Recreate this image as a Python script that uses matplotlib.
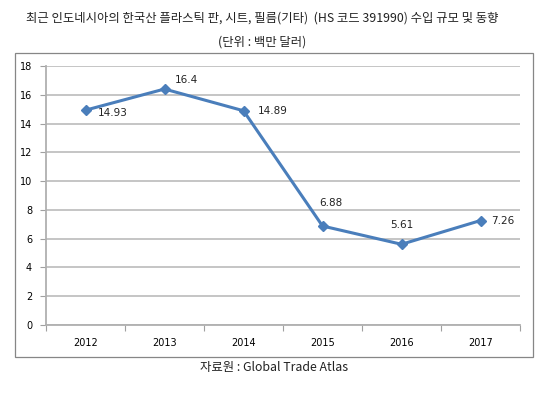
import matplotlib
matplotlib.use("Agg")
import matplotlib.pyplot as plt
from matplotlib.patches import Rectangle

plt.rcParams['font.family'] = ['Noto Sans CJK KR', 'DejaVu Sans']

years = ['2012', '2013', '2014', '2015', '2016', '2017']
values = [14.93, 16.4, 14.89, 6.88, 5.61, 7.26]
labels = ['14.93', '16.4', '14.89', '6.88', '5.61', '7.26']
yticks = [0, 2, 4, 6, 8, 10, 12, 14, 16, 18]

title1 = '최근 인도네시아의 한국산 플라스틱 판, 시트, 필름(기타)  (HS 코드 391990) 수입 규모 및 동향'
title2 = '(단위 : 백만 달러)'
source = '자료원 : Global Trade Atlas'

# label offsets in pixels (dx, dy, ha)
offsets = [(12, -3, 'left'), (10, 9, 'left'), (14, 0, 'left'),
           (8, 23, 'center'), (0, 19, 'center'), (11, 0, 'left')]

fig = plt.figure(figsize=(5.5, 3.94), dpi=100)
W, H = 550, 394

# outer frame
fig.patches.append(Rectangle((15 / W, 1 - 357 / H), (533 - 15) / W, (357 - 53) / H,
                             transform=fig.transFigure, fill=False,
                             edgecolor='#868686', linewidth=0.9))

ax = fig.add_axes([46 / W, 1 - 325 / H, (520 - 46) / W, (325 - 66) / H])
x = list(range(len(years)))
ax.plot(x, values, color='#4a7ebb', linewidth=2.2, marker='D', markersize=5,
        markerfacecolor='#4a7ebb', markeredgecolor='#4a7ebb', zorder=3)

for xi, v, lab, (dx, dy, ha) in zip(x, values, labels, offsets):
    ax.annotate(lab, (xi, v), xytext=(dx * 0.72, dy * 0.72), textcoords='offset points',
                ha=ha, va='center', fontsize=7.5, color='#222222',
                family=['DejaVu Sans'])

ax.set_xlim(-0.5, len(years) - 0.5)
ax.set_ylim(0, 18)
ax.set_yticks(yticks)
ax.set_yticklabels([str(t) for t in yticks], fontsize=7, family=['DejaVu Sans'])
ax.set_xticks(x)
ax.set_xticklabels(years, fontsize=7, family=['DejaVu Sans'])
ax.tick_params(axis='x', length=0, pad=9)
ax.set_xticks([i - 0.5 for i in range(len(years) + 1)], minor=True)
ax.tick_params(axis='x', which='minor', length=4, color='#a0a0a0', width=0.8)
ax.tick_params(axis='y', length=4, color='#a0a0a0', width=0.8, pad=6)

ax.grid(axis='y', color='#c0c0c0', linewidth=1.3)
ax.set_axisbelow(True)
for s in ['top', 'right']:
    ax.spines[s].set_visible(False)
ax.spines['left'].set_color('#b0b0b0')
ax.spines['left'].set_linewidth(1.3)
ax.spines['bottom'].set_color('#b0b0b0')
ax.spines['bottom'].set_linewidth(1.3)

fig.text(262 / W, 1 - 18 / H, title1, ha='center', va='center', fontsize=8.9, color='#222222')
fig.text(262 / W, 1 - 42 / H, title2, ha='center', va='center', fontsize=8.9, color='#222222')
fig.text(274 / W, 1 - 367 / H, source, ha='center', va='center', fontsize=8.9, color='#222222')

fig.savefig('out.png', dpi=100)
